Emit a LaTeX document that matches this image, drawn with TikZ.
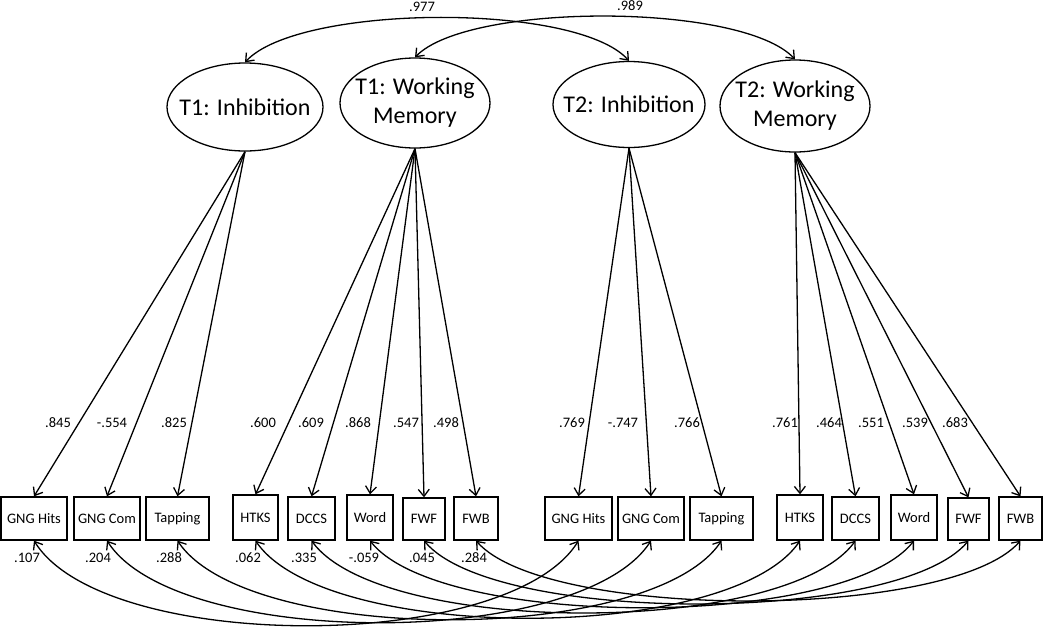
\documentclass[tikz,border=0pt]{standalone}
\usepackage{fontspec}
\setmainfont{Carlito}
\usetikzlibrary{shapes.geometric,arrows.meta}
\begin{document}
\begin{tikzpicture}[x=1pt,y=-1pt,line width=1.3pt,
  lat/.style={draw,ellipse,inner sep=0pt,font=\fontsize{24}{29}\selectfont},
  obs/.style={draw,rectangle,inner sep=0pt,minimum height=43pt,font=\fontsize{14.5}{17}\selectfont},
  coef/.style={inner sep=0pt,font=\fontsize{14.5}{17}\selectfont},
  tip/.style={-{Straight Barb[length=7pt,width=11pt]}},
  cov/.style={{Straight Barb[length=7pt,width=11pt]}-{Straight Barb[length=7pt,width=11pt]}}
]
\useasboundingbox (0,0) rectangle (1050,627);

% latent variables
\node[lat,minimum width=156pt,minimum height=88pt] (T1I) at (245,107) {\makebox[0pt]{T1: Inhibition}};
\node[lat,minimum width=150pt,minimum height=90pt] (T1W) at (415,103) {\makebox[0pt]{\begin{tabular}{@{}c@{}}T1: Working\\Memory\end{tabular}}};
\node[lat,minimum width=152pt,minimum height=86pt] (T2I) at (629,104.5) {\makebox[0pt]{T2: Inhibition}};
\node[lat,minimum width=150pt,minimum height=92pt] (T2W) at (795,106) {\makebox[0pt]{\begin{tabular}{@{}c@{}}T2: Working\\Memory\end{tabular}}};

% observed variables T1
\node[obs,minimum width=66pt] (aGH) at (34,518.5) {GNG Hits};
\node[obs,minimum width=66pt] (aGC) at (107,518.5) {GNG Com};
\node[obs,minimum width=63pt] (aTP) at (177.5,518.5) {Tapping};
\node[obs,minimum width=45pt,minimum height=45pt] (aHT) at (255.5,517.5) {HTKS};
\node[obs,minimum width=47pt] (aDC) at (311.5,518.5) {DCCS};
\node[obs,minimum width=46pt,minimum height=45pt] (aWD) at (370,517.5) {Word};
\node[obs,minimum width=42pt,minimum height=42pt] (aFF) at (424,519) {FWF};
\node[obs,minimum width=44pt] (aFB) at (476,518.5) {FWB};

% observed variables T2
\node[obs,minimum width=67pt] (bGH) at (578.5,518.5) {GNG Hits};
\node[obs,minimum width=66pt] (bGC) at (651,518.5) {GNG Com};
\node[obs,minimum width=63pt] (bTP) at (721.5,518.5) {Tapping};
\node[obs,minimum width=46pt,minimum height=45pt] (bHT) at (800,517.5) {HTKS};
\node[obs,minimum width=47pt] (bDC) at (855.5,518.5) {DCCS};
\node[obs,minimum width=46pt,minimum height=45pt] (bWD) at (914,517.5) {Word};
\node[obs,minimum width=41pt,minimum height=42pt] (bFF) at (968.5,519) {FWF};
\node[obs,minimum width=43pt] (bFB) at (1020.5,518.5) {FWB};

% latent covariances
\draw[cov] (T1I.north) .. controls +(53,-58) and +(-53,-59) .. (T2I.north);
\draw[cov] (T1W.north) .. controls +(53,-55) and +(-53,-57) .. (T2W.north);
\node[coef] (c977) at (422,7) {.977};
\node[coef] (c989) at (630,6) {.989};

% loadings
\draw[tip] (T1I.south) -- (aGH.north);
\draw[tip] (T1I.south) -- (aGC.north);
\draw[tip] (T1I.south) -- (aTP.north);
\draw[tip] (T1W.south) -- (aHT.north);
\draw[tip] (T1W.south) -- (aDC.north);
\draw[tip] (T1W.south) -- (aWD.north);
\draw[tip] (T1W.south) -- (aFF.north);
\draw[tip] (T1W.south) -- (aFB.north);
\draw[tip] (T2I.south) -- (bGH.north);
\draw[tip] (T2I.south) -- (bGC.north);
\draw[tip] (T2I.south) -- (bTP.north);
\draw[tip] (T2W.south) -- (bHT.north);
\draw[tip] (T2W.south) -- (bDC.north);
\draw[tip] (T2W.south) -- (bWD.north);
\draw[tip] (T2W.south) -- (bFF.north);
\draw[tip] (T2W.south) -- (bFB.north);

\node[coef] (l1) at (58,423) {.845};
\node[coef] (l2) at (112,423) {-.554};
\node[coef] (l3) at (174,423) {.825};
\node[coef] (l4) at (263,423) {.600};
\node[coef] (l5) at (311,423) {.609};
\node[coef] (l6) at (358,423) {.868};
\node[coef] (l7) at (406,423) {.547};
\node[coef] (l8) at (446,423) {.498};
\node[coef] (l9) at (572,423) {.769};
\node[coef] (l10) at (623,423) {-.747};
\node[coef] (l11) at (687,423) {.766};
\node[coef] (l12) at (785,423) {.761};
\node[coef] (l13) at (829,423) {.464};
\node[coef] (l14) at (871,423) {.551};
\node[coef] (l15) at (915,423) {.539};
\node[coef] (l16) at (955,423) {.683};

% residual covariances
\draw[cov] (aGH.south) .. controls +(70,113) and +(-70,113) .. (bGH.south);
\draw[cov] (aGC.south) .. controls +(70,109) and +(-70,109) .. (bGC.south);
\draw[cov] (aTP.south) .. controls +(70,105) and +(-70,105) .. (bTP.south);
\draw[cov] (aHT.south) .. controls +(70,103) and +(-70,103) .. (bHT.south);
\draw[cov] (aDC.south) .. controls +(70,96) and +(-70,96) .. (bDC.south);
\draw[cov] (aWD.south) .. controls +(70,89) and +(-70,89) .. (bWD.south);
\draw[cov] (aFF.south) .. controls +(70,84) and +(-70,84) .. (bFF.south);
\draw[cov] (aFB.south) .. controls +(70,80) and +(-70,80) .. (bFB.south);

\node[coef] (r1) at (27,558) {.107};
\node[coef] (r2) at (98,558) {.204};
\node[coef] (r3) at (169,558) {.288};
\node[coef] (r4) at (248,558) {.062};
\node[coef] (r5) at (304,558) {.335};
\node[coef] (r6) at (364,558) {-.059};
\node[coef] (r7) at (422,558) {.045};
\node[coef] (r8) at (474,558) {.284};
\end{tikzpicture}
\end{document}
